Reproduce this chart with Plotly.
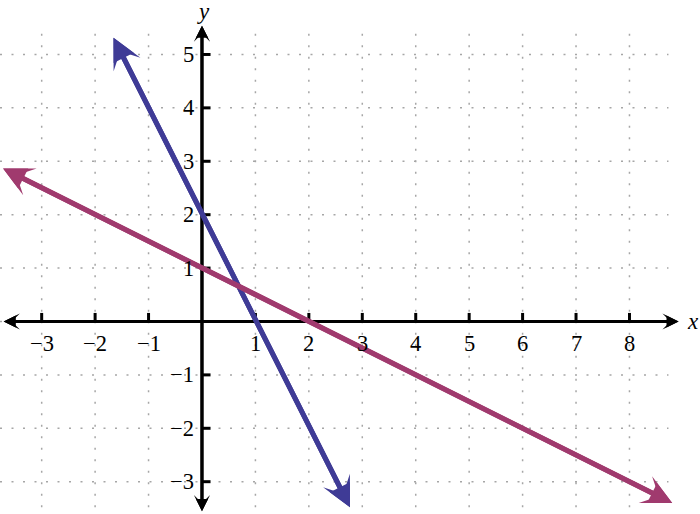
"""two straight lines on a dotted coordinate grid"""

import plotly.graph_objects as go

# tick values and their labels
x_ticks = [-3, -2, -1, 1, 2, 3, 4, 5, 6, 7, 8]
y_ticks = [-3, -2, -1, 1, 2, 3, 4, 5]
x_grid = [-3, -2, -1, 0, 1, 2, 3, 4, 5, 6, 7, 8]
y_grid = [-3, -2, -1, 0, 1, 2, 3, 4, 5]

# ends of the two lines (arrow tips)
blue_x = [-1.67, 2.77]
blue_y = [5.34, -3.48]
magenta_x = [-3.75, 8.80]
magenta_y = [2.88, -3.40]

BLUE = "#3f3b96"
MAGENTA = "#a03a6e"
GRID = "#a6a6a6"
FONT = "Liberation Serif"

X_RANGE = [-3.78, 9.32]
Y_RANGE = [-3.605, 6.02]


def label(v):
    """tick text with a real minus sign"""
    return str(v).replace("-", "\u2212")


def add_double_arrow(fig, xs, ys, color, width, size):
    """line with an arrow head at each end"""
    common = dict(x=xs[1], y=ys[1], ax=xs[0], ay=ys[0], text="",
                  showarrow=True, xref="x", yref="y", axref="x", ayref="y",
                  arrowside="end+start", font=dict(size=1), standoff=0,
                  startstandoff=0, arrowwidth=width, arrowcolor=color)
    # barbed head
    fig.add_annotation(arrowhead=3, startarrowhead=3, arrowsize=size,
                       startarrowsize=size, **common)
    # flat-backed head on top, fills the notch to make it shallow
    fig.add_annotation(arrowhead=2, startarrowhead=2, arrowsize=size * 0.9,
                       startarrowsize=size * 0.9, **common)


def main():
    """main"""
    fig = go.Figure()

    # dotted grid, one trace per direction
    gx, gy = [], []
    for v in x_grid:
        gx += [v, v, None]
        gy += [5.39, Y_RANGE[0], None]
    fig.add_trace(go.Scatter(x=gx, y=gy, mode="lines", hoverinfo="skip",
                             line=dict(color=GRID, width=1.5, dash="2px,9.5px")))
    gx, gy = [], []
    for v in y_grid:
        gx += [X_RANGE[0], 8.73, None]
        gy += [v, v, None]
    fig.add_trace(go.Scatter(x=gx, y=gy, mode="lines", hoverinfo="skip",
                             line=dict(color=GRID, width=1.5, dash="2px,9.5px")))

    # tick marks
    for v in x_ticks:
        fig.add_shape(type="line", x0=v, x1=v, y0=0, y1=0.16,
                      line=dict(color="black", width=3))
    for v in y_ticks:
        fig.add_shape(type="line", x0=0, x1=0.16, y0=v, y1=v,
                      line=dict(color="black", width=3))

    # axes
    add_double_arrow(fig, [-3.74, 8.92], [0, 0], "black", 3, 0.9)
    add_double_arrow(fig, [0, 0], [-3.58, 5.54], "black", 3, 0.9)

    # the two lines
    add_double_arrow(fig, blue_x, blue_y, BLUE, 5, 1.0)
    add_double_arrow(fig, magenta_x, magenta_y, MAGENTA, 5, 1.0)

    # tick labels
    for v in x_ticks:
        fig.add_annotation(x=v, y=-0.41, text=label(v), showarrow=False,
                           font=dict(family=FONT, size=22.5, color="black"))
    for v in y_ticks:
        fig.add_annotation(x=-0.12, y=v, text=label(v), showarrow=False,
                           xanchor="right",
                           font=dict(family=FONT, size=22.5, color="black"))

    # axis names
    fig.add_annotation(x=9.04, y=0, text="<i>x</i>", showarrow=False,
                       xanchor="left",
                       font=dict(family=FONT, size=23, color="black"))
    fig.add_annotation(x=0.02, y=5.80, text="<i>y</i>", showarrow=False,
                       font=dict(family=FONT, size=23, color="black"))

    fig.update_layout(
        width=700, height=514,
        margin=dict(l=0, r=0, t=0, b=0),
        plot_bgcolor="white", paper_bgcolor="white",
        showlegend=False,
        xaxis=dict(range=X_RANGE, visible=False, fixedrange=True),
        yaxis=dict(range=Y_RANGE, visible=False, fixedrange=True),
    )

    # page margin off so the chart sits at the window corner
    fig.write_html("out.html",
                   config={"displayModeBar": False},
                   post_script="document.body.style.margin='0px';"
                               "document.body.style.overflow='hidden';")


if __name__ == "__main__":
    main()
